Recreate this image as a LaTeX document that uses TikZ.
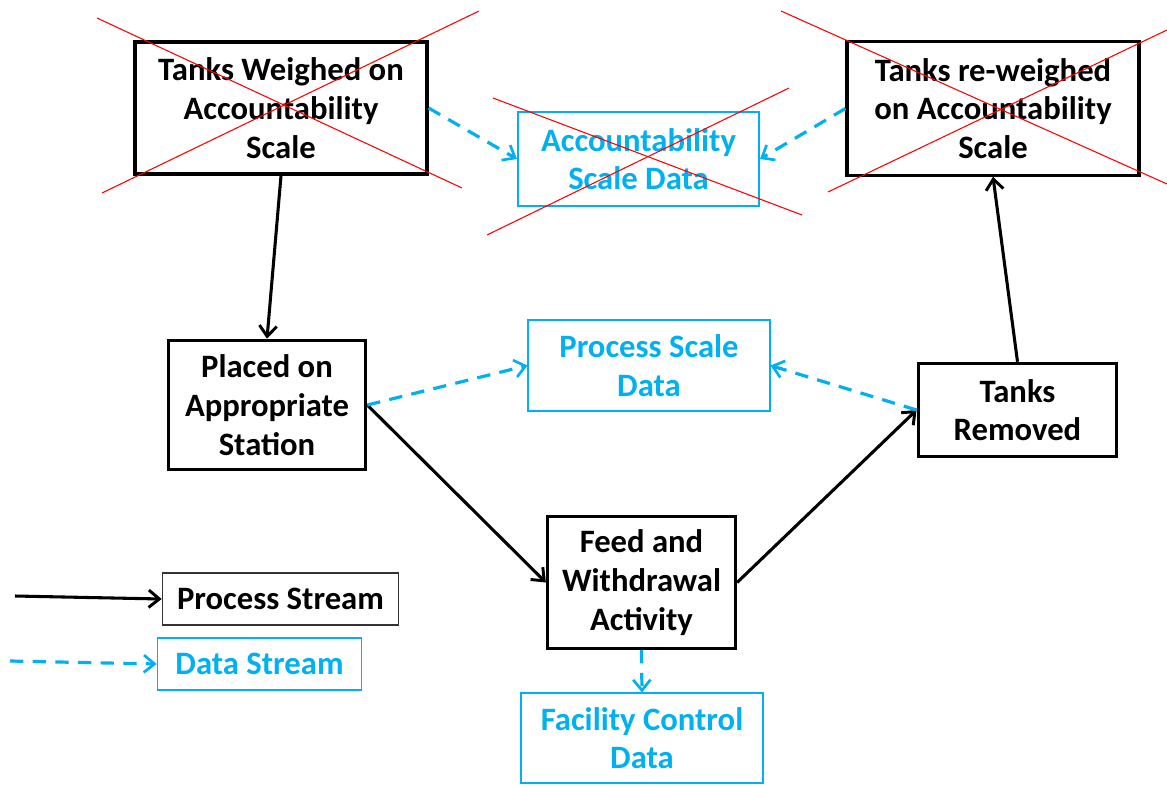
\documentclass[tikz,border=0pt]{standalone}
\usepackage{fontspec}
\setmainfont{Carlito}
\usetikzlibrary{arrows.meta}
\definecolor{datablue}{RGB}{0,176,240}
\tikzset{
  procbox/.style={draw=black, line width=2.4pt, align=center, font=\bfseries\fontsize{24.5}{29}\selectfont, inner sep=0pt},
  databox/.style={draw=datablue, line width=1.3pt, text=datablue, align=center, font=\bfseries\fontsize{24.5}{29}\selectfont, inner sep=0pt},
  procflow/.style={line width=2.3pt, -{Straight Barb[length=8pt, width=13pt, line width=2.2pt]}},
  dataflow/.style={datablue, line width=2.4pt, dash pattern=on 10pt off 7pt, -{Straight Barb[length=8pt, width=13pt, line width=2pt]}},
  crossout/.style={red, line width=0.8pt}
}
\begin{document}
\begin{tikzpicture}[x=0.75pt,y=0.75pt,yscale=-1,xscale=1]
    \useasboundingbox (0,0) rectangle (1167,786);

    % Text Node
    \node [procbox, minimum width=219pt, minimum height=99pt] (tw) at (281,108) {Tanks Weighed on\\Accountability\\Scale};
    % Text Node
    \node [databox, minimum width=181pt, minimum height=70pt] (asd) at (638.5,159) {Accountability\\Scale Data};
    % Text Node
    \node [procbox, minimum width=219pt, minimum height=100pt] (trw) at (993,108.5) {Tanks re-weighed\\on Accountability\\Scale};
    % Text Node
    \node [procbox, minimum width=148pt, minimum height=97pt] (pas) at (267,405) {Placed on\\Appropriate\\Station};
    % Text Node
    \node [databox, minimum width=181pt, minimum height=68pt] (psd) at (649,365.5) {Process Scale\\Data};
    % Text Node
    \node [procbox, minimum width=149pt, minimum height=70pt] (trm) at (1017.5,410) {Tanks\\Removed};
    % Text Node
    \node [procbox, minimum width=141pt, minimum height=99pt] (fwa) at (641.5,582.5) {Feed and\\Withdrawal\\Activity};
    % Text Node
    \node [databox, minimum width=181pt, minimum height=67pt] (fcd) at (642,738) {Facility Control\\Data};

    % Legend
    \node [procbox, draw=black!80, line width=1.2pt, minimum width=177pt, minimum height=39pt] (psleg) at (280.5,599) {Process Stream};
    \node [databox, minimum width=153pt, minimum height=39pt] (dsleg) at (259.5,664) {Data Stream};
    \coordinate (psfrom) at (15,596);
    \coordinate (dsfrom) at (10,661);

    % Process stream
    \draw [procflow] (tw.south) -- (pas.north);
    \draw [procflow] (pas.east) -- (fwa.west);
    \draw [procflow] (fwa.east) -- (trm.west);
    \draw [procflow] (trm.north) -- (trw.south);
    \draw [procflow] (psfrom) -- (psleg.west);

    % Data stream
    \draw [dataflow] (tw.east) -- (asd.west);
    \draw [dataflow] (trw.west) -- (asd.east);
    \draw [dataflow] (pas.east) -- (psd.west);
    \draw [dataflow] (trm.west) -- (psd.east);
    \draw [dataflow] (fwa.south) -- (fcd.north);
    \draw [dataflow] (dsfrom) -- (dsleg.west);

    % Crossed out
    \draw [crossout] (97,18) -- (462,188);
    \draw [crossout] (102,193) -- (479,11);
    \draw [crossout] (493,98) -- (802,215);
    \draw [crossout] (487,235) -- (789,88);
    \draw [crossout] (781,11) -- (1167,184);
    \draw [crossout] (828,192) -- (1167,30);
\end{tikzpicture}
\end{document}
